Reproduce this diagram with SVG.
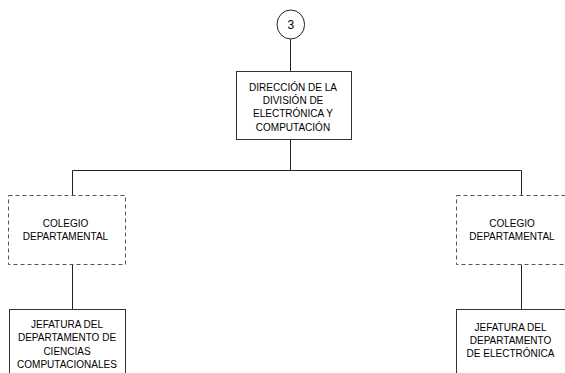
<svg xmlns="http://www.w3.org/2000/svg" width="565" height="373" viewBox="0 0 565 373">
<style>
.box{fill:#fff;stroke:#333;stroke-width:1}
.dash{fill:#fff;stroke:#555;stroke-width:1;stroke-dasharray:4,3}
.ln{fill:none;stroke:#222;stroke-width:1}
text{font-family:"Liberation Sans",Arial,sans-serif;font-size:10px;fill:#000;text-anchor:middle}
.num{font-size:12px}
</style>
<rect width="565" height="373" fill="#fff"/>
<g id="connectors">
<line class="ln" x1="290.5" y1="39" x2="290.5" y2="71.5"/>
<line class="ln" x1="290.5" y1="139.5" x2="290.5" y2="170.5"/>
<polyline class="ln" points="72.5,195.5 72.5,170.5 521.5,170.5 521.5,195.5"/>
<line class="ln" x1="72.5" y1="264.5" x2="72.5" y2="309.5"/>
<line class="ln" x1="521.5" y1="264.5" x2="521.5" y2="309.5"/>
</g>
<g id="node-3">
<ellipse cx="290.8" cy="24.5" rx="13.8" ry="14.5" fill="#fff" stroke="#222"/>
<text class="num" x="290.8" y="28.8">3</text>
</g>
<g id="node-direccion">
<rect class="box" x="236.5" y="71.5" width="115" height="68"/>
<text x="293" y="90.7">DIRECCIÓN DE LA</text>
<text x="293" y="104">DIVISIÓN DE</text>
<text x="293" y="117.3">ELECTRÓNICA Y</text>
<text x="293" y="130.7">COMPUTACIÓN</text>
</g>
<g id="node-colegio-left">
<rect class="dash" x="8.5" y="195.5" width="117" height="69"/>
<text x="65.5" y="227">COLEGIO</text>
<text x="65.5" y="240">DEPARTAMENTAL</text>
</g>
<g id="node-colegio-right">
<rect class="dash" x="456.5" y="195.5" width="117" height="69"/>
<text x="512" y="227">COLEGIO</text>
<text x="512" y="240">DEPARTAMENTAL</text>
</g>
<g id="node-jefatura-left">
<rect class="box" x="9.5" y="309.5" width="116" height="80"/>
<text x="67" y="328">JEFATURA DEL</text>
<text x="67" y="341.3">DEPARTAMENTO DE</text>
<text x="67" y="354.6">CIENCIAS</text>
<text x="67" y="367.5">COMPUTACIONALES</text>
</g>
<g id="node-jefatura-right">
<rect class="box" x="456.5" y="309.5" width="117" height="80"/>
<text x="510.5" y="330.5">JEFATURA DEL</text>
<text x="510.5" y="343.5">DEPARTAMENTO</text>
<text x="510.5" y="356.7">DE ELECTRÓNICA</text>
</g>
</svg>
